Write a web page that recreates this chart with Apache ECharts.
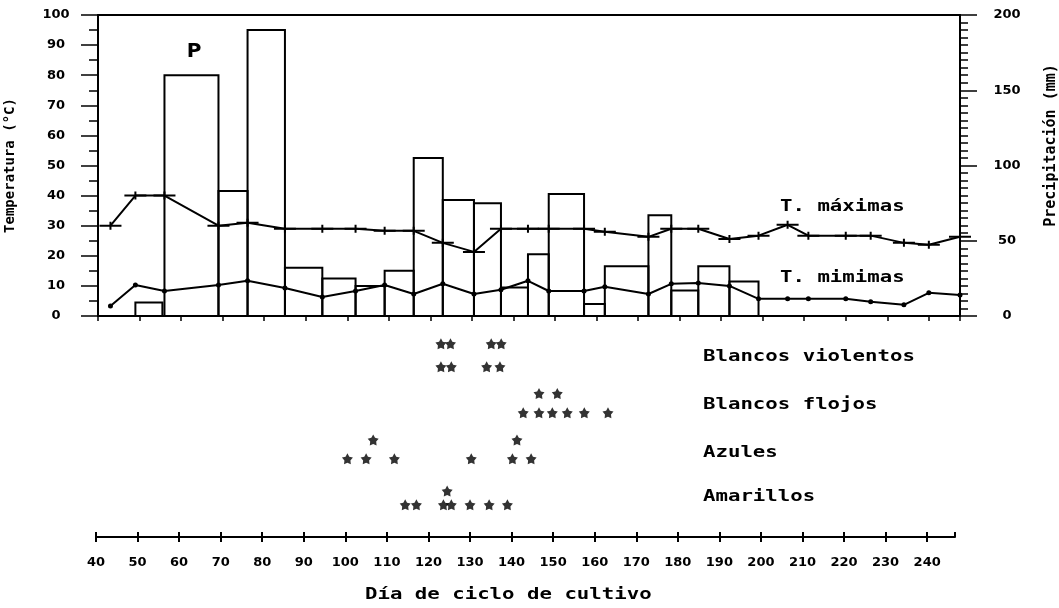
<!DOCTYPE html>
<html>
<head>
<meta charset="utf-8">
<script src="https://cdn.jsdelivr.net/npm/echarts@6/dist/echarts.min.js"></script>
<style>
    html, body { margin: 0; padding: 0; background: #fff; }
    #container { width: 1059px; height: 608px; }
</style>
</head>
<body>
<div id="container"></div>
<script>
// dias de cada lectura de temperatura (limites de los periodos)
var diasT = [43, 49, 56, 69, 76, 85, 94, 102, 109, 116, 123, 130.5, 137, 143.5, 148.5,
    157, 162, 172.5, 178, 184.5, 192, 199, 206, 211, 220, 226, 234, 240, 247.5];
var tMaximas = [30, 40, 40, 30, 31, 29, 29, 29, 28.3, 28.3, 24.3, 21.3, 29, 29, 29,
    29, 28, 26.3, 29, 29, 25.6, 26.7, 30.3, 26.7, 26.7, 26.7, 24.3, 23.7, 26.3];
var tMinimas = [3.3, 10.3, 8.3, 10.3, 11.7, 9.3, 6.3, 8.3, 10.3, 7.3, 10.7, 7.3, 8.7, 11.7, 8.3,
    8.3, 9.7, 7.3, 10.7, 11, 10, 5.7, 5.7, 5.7, 5.7, 4.7, 3.7, 7.7, 7];

// precipitacion (mm) por periodo
var precipInicio = [49, 56, 69, 76, 85, 94, 102, 109, 116, 123, 130.5, 137, 143.5, 148.5, 157, 162, 172.5, 178, 184.5, 192];
var precipFin = [55.5, 69, 76, 85, 94, 102, 109, 116, 123, 130.5, 137, 143.5, 148.5, 157, 162, 172.5, 178, 184.5, 192, 199];
var precipitacion = [9, 160, 83, 190, 32, 25, 20, 30, 105, 77, 75, 19, 41, 81, 8, 33, 67, 17, 33, 23];

// observaciones (dia, fila 0 = abajo, 1 = arriba)
var categorias = ["Amarillos", "Azules", "Blancos flojos", "Blancos violentos"];
var diasAmarillos = [124.5, 114.4, 117.1, 123.6, 125.5, 130, 134.6, 139];
var filaAmarillos = [1, 0, 0, 0, 0, 0, 0, 0];
var diasAzules = [106.7, 141.3, 100.5, 105, 111.8, 130.3, 140.2, 144.7];
var filaAzules = [1, 1, 0, 0, 0, 0, 0, 0];
var diasFlojos = [146.6, 151, 142.8, 146.6, 149.8, 153.4, 157.5, 163.2];
var filaFlojos = [1, 1, 0, 0, 0, 0, 0, 0];
var diasViolentos = [123, 125.3, 135.1, 137.5, 123, 125.5, 134, 137.2];
var filaViolentos = [1, 1, 1, 1, 0, 0, 0, 0];

var ejeDias = [40, 247.5];

var black = "#000";
var tickFont = "DejaVu Sans";
var monoFont = "DejaVu Sans Mono";
var starPath = "path://M50,0L66,28L97.6,34.5L76,59L79.4,90.5L50,78L20.6,90.5L24,59L2.4,34.5L34,28Z";
var plusPath = "path://M0,3H22V5H0Z M10,0H12V8H10Z";
var rowGap = [0.3, 0.41, 0.42, 0.5];

function zip(xs, ys) {
    return xs.map(function (x, i) { return [x, ys[i]]; });
}

function stars(dias, filas, k) {
    return dias.map(function (d, i) { return [d, k + filas[i] * rowGap[k]]; });
}

function monoText(text, x, y) {
    return {
        type: "text", x: x, y: y, scaleX: 1.38, z: 10,
        style: {
            text: text, x: 0, y: 0, fill: black,
            font: "bold 15px '" + monoFont + "'",
            align: "left", verticalAlign: "middle",
            textAlign: "left", textVerticalAlign: "middle"
        }
    };
}

function lineAxis(w) {
    return { show: true, onZero: false, lineStyle: { color: black, width: w } };
}

var tickLabel = { color: black, fontFamily: tickFont, fontWeight: "bold", fontSize: 13 };

var barData = precipitacion.map(function (v, i) { return [precipInicio[i], precipFin[i], v]; });

var option = {
    animation: false,
    backgroundColor: "#fff",
    grid: [
        { left: 98, top: 15, width: 862, height: 301, containLabel: false, outerBoundsMode: "none" },
        { left: 96, top: 330, width: 859, height: 207, containLabel: false, outerBoundsMode: "none" }
    ],
    xAxis: [
        {
            gridIndex: 0, type: "value", min: ejeDias[0], max: ejeDias[1], interval: 10, position: "bottom",
            axisLine: lineAxis(2), axisTick: { show: true, length: 5, lineStyle: { color: black, width: 1.5 } },
            axisLabel: { show: false }, splitLine: { show: false }
        },
        {
            gridIndex: 0, type: "value", min: ejeDias[0], max: ejeDias[1], position: "top",
            axisLine: lineAxis(2), axisTick: { show: false }, axisLabel: { show: false }, splitLine: { show: false }
        },
        {
            gridIndex: 1, type: "value", min: 40, max: 246.7, interval: 10, position: "bottom",
            axisLine: lineAxis(2), axisTick: { show: true, length: 5, lineStyle: { color: black, width: 2 } },
            axisLabel: Object.assign({ margin: 19 }, tickLabel),
            splitLine: { show: false }
        },
        {
            gridIndex: 1, type: "value", min: 40, max: 246.7, interval: 10, position: "bottom",
            axisLine: { show: false, onZero: false },
            axisTick: { show: true, inside: true, length: 5, lineStyle: { color: black, width: 2 } },
            axisLabel: { show: false }, splitLine: { show: false }
        }
    ],
    yAxis: [
        {
            gridIndex: 0, type: "value", min: 0, max: 100, interval: 10, position: "left",
            name: "Temperatura (°C)", nameLocation: "middle", nameGap: 81,
            nameTextStyle: { color: black, fontFamily: monoFont, fontWeight: "bold", fontSize: 14 },
            axisLine: lineAxis(2),
            axisTick: { show: true, length: 17, lineStyle: { color: black, width: 1.5 } },
            minorTick: { show: true, splitNumber: 2, length: 9, lineStyle: { color: black, width: 1.5 } },
            axisLabel: Object.assign({ margin: 42, align: "center" }, tickLabel),
            splitLine: { show: false }
        },
        {
            gridIndex: 0, type: "value", min: 0, max: 200, interval: 50, position: "right",
            name: "Precipitación (mm)", nameLocation: "middle", nameGap: 84, nameRotate: 90,
            nameTextStyle: { color: black, fontFamily: monoFont, fontWeight: "bold", fontSize: 15, padding: [0, 0, 0, 40] },
            axisLine: lineAxis(2),
            axisTick: { show: true, length: 17, lineStyle: { color: black, width: 1.5 } },
            minorTick: { show: true, splitNumber: 10, length: 8, lineStyle: { color: black, width: 1.5 } },
            axisLabel: Object.assign({ margin: 47, align: "center" }, tickLabel),
            splitLine: { show: false }
        },
        { gridIndex: 1, type: "value", min: -0.7, max: 3.8, show: false }
    ],
    series: [
        {
            name: "P", type: "custom", xAxisIndex: 0, yAxisIndex: 1, z: 1,
            data: barData,
            encode: { x: [0, 1], y: 2 },
            renderItem: function (params, api) {
                var p0 = api.coord([api.value(0), api.value(2)]);
                var p1 = api.coord([api.value(1), 0]);
                return {
                    type: "rect",
                    shape: { x: p0[0], y: p0[1], width: p1[0] - p0[0], height: p1[1] - p0[1] },
                    style: { fill: "none", stroke: black, lineWidth: 2 }
                };
            }
        },
        {
            name: "T. máximas", type: "line", xAxisIndex: 0, yAxisIndex: 0, z: 3,
            data: zip(diasT, tMaximas),
            symbol: plusPath, symbolSize: [22, 8], showAllSymbol: true,
            itemStyle: { color: black }, lineStyle: { color: black, width: 2 }
        },
        {
            name: "T. mimimas", type: "line", xAxisIndex: 0, yAxisIndex: 0, z: 3,
            data: zip(diasT, tMinimas),
            symbol: "circle", symbolSize: 5, showAllSymbol: true,
            itemStyle: { color: black }, lineStyle: { color: black, width: 2 }
        },
        {
            name: categorias[0], type: "scatter", xAxisIndex: 2, yAxisIndex: 2,
            data: stars(diasAmarillos, filaAmarillos, 0), symbol: starPath, symbolSize: 11, itemStyle: { color: black }
        },
        {
            name: categorias[1], type: "scatter", xAxisIndex: 2, yAxisIndex: 2,
            data: stars(diasAzules, filaAzules, 1), symbol: starPath, symbolSize: 11, itemStyle: { color: black }
        },
        {
            name: categorias[2], type: "scatter", xAxisIndex: 2, yAxisIndex: 2,
            data: stars(diasFlojos, filaFlojos, 2), symbol: starPath, symbolSize: 11, itemStyle: { color: black }
        },
        {
            name: categorias[3], type: "scatter", xAxisIndex: 2, yAxisIndex: 2,
            data: stars(diasViolentos, filaViolentos, 3), symbol: starPath, symbolSize: 11, itemStyle: { color: black }
        }
    ],
    graphic: [
        {
            type: "text", x: 194, y: 52, z: 10,
            style: {
                text: "P", x: 0, y: 0, fill: black, font: "bold 20px '" + tickFont + "'",
                align: "center", verticalAlign: "middle", textAlign: "center", textVerticalAlign: "middle"
            }
        },
        monoText("T. máximas", 780, 207),
        monoText("T. mimimas", 780, 278),
        monoText(categorias[3], 703, 357),
        monoText(categorias[2], 703, 405),
        monoText(categorias[1], 703, 453),
        monoText(categorias[0], 703, 497),
        monoText("Día de ciclo de cultivo", 365, 595)
    ]
};

var chart = echarts.init(document.getElementById("container"), null, { renderer: "canvas" });
chart.setOption(option);
window.addEventListener("resize", chart.resize);
</script>
</body>
</html>
